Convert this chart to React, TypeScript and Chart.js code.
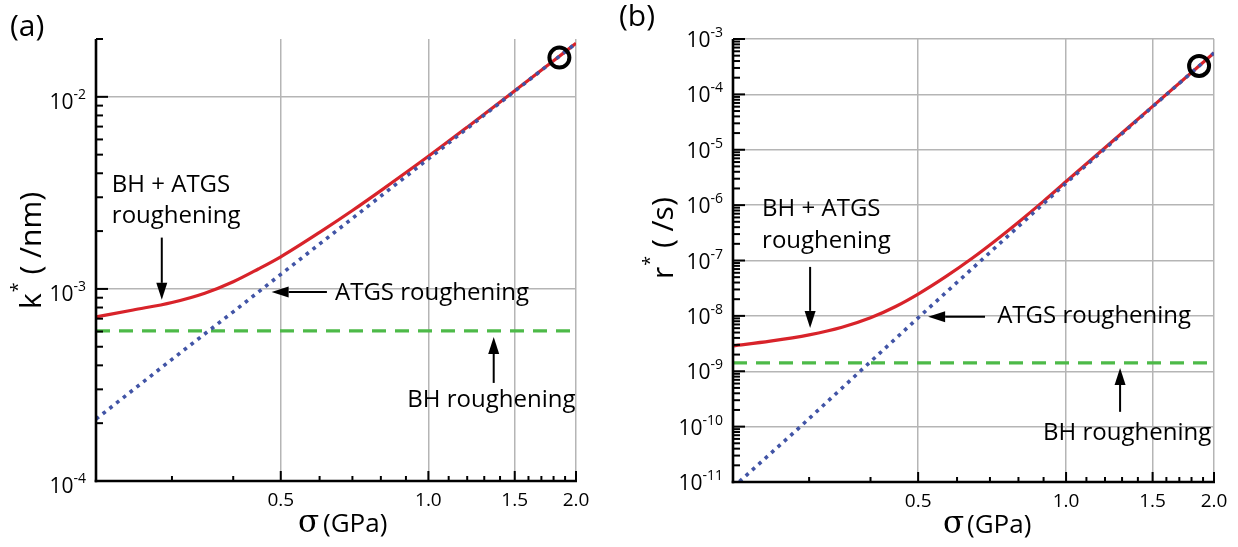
import React, { useEffect, useRef } from "react";
import { Chart, registerables } from "chart.js";

Chart.register(...registerables);

// ---------------- data ----------------
// shared sigma axis (GPa), logarithmic
const xMin = 0.21;
const xMax = 2.0;
const xMajorTicks = [0.5, 1.0, 1.5, 2.0];
const xTickLabels = ["0.5", "1.0", "1.5", "2.0"];
const xMinorTicks = [0.3, 0.4, 0.6, 0.7, 0.8, 0.9, 1.1, 1.2, 1.3, 1.4, 1.6, 1.7, 1.8, 1.9];

// panel (a): k* (/nm)
const sigmaRedA = [0.21, 0.25, 0.3, 0.35, 0.4, 0.45, 0.5, 0.6, 0.7, 0.8, 1.0, 1.2, 1.5, 1.8, 2.0];
const kRedA = [7.15e-4, 7.77e-4, 8.5e-4, 9.5e-4, 1.09e-3, 1.27e-3, 1.47e-3, 1.97e-3, 2.56e-3, 3.25e-3, 4.9e-3, 6.95e-3, 1.075e-2, 1.54e-2, 1.9e-2];
const sigmaBlueA = [0.21, 0.3, 0.4, 0.5, 0.7, 1.0, 1.5, 2.0];
const kBlueA = [2.1e-4, 4.3e-4, 7.6e-4, 1.19e-3, 2.33e-3, 4.75e-3, 1.07e-2, 1.9e-2];
const sigmaGreenA = [0.21, 2.0];
const kGreenA = [6.04e-4, 6.04e-4];
const sigmaCircleA = [1.85];
const kCircleA = [0.016];
const yMinA = 1e-4;
const yMaxA = 0.02;
const yLabelExpA = [-4, -3, -2];
const yGridExpA = [-3, -2];

// panel (b): r* (/s)
const sigmaRedB = [0.21, 0.25, 0.3, 0.35, 0.4, 0.45, 0.5, 0.57, 0.644, 0.72, 0.8, 0.9, 1.0, 1.2, 1.5, 2.0];
const rRedB = [2.88e-9, 3.49e-9, 4.54e-9, 6.23e-9, 9.24e-9, 1.48e-8, 2.48e-8, 5.17e-8, 1.1e-7, 2.33e-7, 4.92e-7, 1.18e-6, 2.67e-6, 1.09e-5, 6.07e-5, 5.6e-4];
const sigmaBlueB = [0.21, 0.288, 0.381, 0.505, 0.7, 1.0, 1.5, 2.0];
const rBlueB = [8e-12, 1e-10, 1e-9, 1e-8, 1.4e-7, 2.5e-6, 6.0e-5, 5.6e-4];
const sigmaGreenB = [0.21, 2.0];
const rGreenB = [1.42e-9, 1.42e-9];
const sigmaCircleB = [1.865];
const rCircleB = [3.26e-4];
const yMinB = 1e-11;
const yMaxB = 1e-3;
const yLabelExpB = [-11, -10, -9, -8, -7, -6, -5, -4, -3];
const yGridExpB = [-10, -9, -8, -7, -6, -5, -4, -3];

// annotations (anchored in data coordinates)
const notesA = [
  { text: "BH + ATGS", x: 0.2262, y: 3.2e-3 },
  { text: "roughening", x: 0.2262, y: 2.21e-3 },
  { text: "ATGS roughening", x: 0.645, y: 8.77e-4 },
  { text: "BH roughening", x: 0.906, y: 2.43e-4 },
];
const arrowsA = [
  { x1: 0.286, y1: 1.85e-3, x2: 0.286, y2: 8.77e-4 },
  { x1: 0.621, y1: 9.65e-4, x2: 0.479, y2: 9.65e-4 },
  { x1: 1.359, y1: 3.24e-4, x2: 1.359, y2: 5.62e-4 },
];
const notesB = [
  { text: "BH + ATGS", x: 0.2407, y: 6.38e-7 },
  { text: "roughening", x: 0.2407, y: 1.69e-7 },
  { text: "ATGS roughening", x: 0.724, y: 7.48e-9 },
  { text: "BH roughening", x: 0.898, y: 5.78e-11 },
];
const arrowsB = [
  { x1: 0.3014, y1: 7.66e-8, x2: 0.3014, y2: 6.07e-9 },
  { x1: 0.684, y1: 9.6e-9, x2: 0.524, y2: 9.6e-9 },
  { x1: 1.288, y1: 1.85e-10, x2: 1.288, y2: 1.15e-9 },
];

// ---------------- styles ----------------
const FONT = '"Open Sans", "DejaVu Sans", Arial, sans-serif';
const SERIF = '"DejaVu Serif", "Liberation Serif", serif';
const RED = "#d8232a";
const BLUE = "#4154a6";
const GREEN = "#4dba48";
const GRID = "#b5b5b5";
const W = 619;
const H = 547;

type Panel = {
  offsetX: number;
  padding: { left: number; right: number; top: number; bottom: number };
  red: { x: number[]; y: number[] };
  blue: { x: number[]; y: number[] };
  green: { x: number[]; y: number[] };
  circle: { x: number[]; y: number[] };
  yMin: number;
  yMax: number;
  yLabelExp: number[];
  yGridExp: number[];
  yLabelBaseline: number;
  notes: { text: string; x: number; y: number }[];
  arrows: { x1: number; y1: number; x2: number; y2: number }[];
  panelLabel: string;
  panelLabelPos: [number, number];
  yTitleMain: string;
  yTitleRest: string;
  yTitlePos: [number, number];
  sigmaX: number;
  gpaX: number;
  xTitleBaseline: number;
};

const panelA: Panel = {
  offsetX: 0,
  padding: { left: 96, right: W - 576, top: 39, bottom: H - 481 },
  red: { x: sigmaRedA, y: kRedA },
  blue: { x: sigmaBlueA, y: kBlueA },
  green: { x: sigmaGreenA, y: kGreenA },
  circle: { x: sigmaCircleA, y: kCircleA },
  yMin: yMinA,
  yMax: yMaxA,
  yLabelExp: yLabelExpA,
  yGridExp: yGridExpA,
  yLabelBaseline: 12,
  notes: notesA,
  arrows: arrowsA,
  panelLabel: "(a)",
  panelLabelPos: [10, 36],
  yTitleMain: "k",
  yTitleRest: " ( /nm)",
  yTitlePos: [41, 309],
  sigmaX: 298,
  gpaX: 323,
  xTitleBaseline: 532,
};

const panelB: Panel = {
  offsetX: 619,
  padding: { left: 733 - 619, right: 1238 - 1214, top: 39, bottom: H - 482 },
  red: { x: sigmaRedB, y: rRedB },
  blue: { x: sigmaBlueB, y: rBlueB },
  green: { x: sigmaGreenB, y: rGreenB },
  circle: { x: sigmaCircleB, y: rCircleB },
  yMin: yMinB,
  yMax: yMaxB,
  yLabelExp: yLabelExpB,
  yGridExp: yGridExpB,
  yLabelBaseline: 8,
  notes: notesB,
  arrows: arrowsB,
  panelLabel: "(b)",
  panelLabelPos: [619, 26],
  yTitleMain: "r",
  yTitleRest: " ( /s)",
  yTitlePos: [673, 279],
  sigmaX: 943,
  gpaX: 967,
  xTitleBaseline: 533,
};

const pts = (xs: number[], ys: number[]) => xs.map((x, i) => ({ x, y: ys[i] }));

function drawArrow(ctx: CanvasRenderingContext2D, x1: number, y1: number, x2: number, y2: number) {
  const ang = Math.atan2(y2 - y1, x2 - x1);
  const hl = 17;
  const hw = 5.5;
  const bx = x2 - hl * Math.cos(ang);
  const by = y2 - hl * Math.sin(ang);
  ctx.beginPath();
  ctx.moveTo(x1, y1);
  ctx.lineTo(bx, by);
  ctx.lineWidth = 2;
  ctx.stroke();
  ctx.beginPath();
  ctx.moveTo(x2, y2);
  ctx.lineTo(bx + hw * Math.sin(ang), by - hw * Math.cos(ang));
  ctx.lineTo(bx - hw * Math.sin(ang), by + hw * Math.cos(ang));
  ctx.closePath();
  ctx.fill();
}

function makeOverlay(p: Panel) {
  return {
    id: "overlay",
    afterDraw(chart: any) {
      const ctx: CanvasRenderingContext2D = chart.ctx;
      const xs = chart.scales.x;
      const ys = chart.scales.y;
      const a = chart.chartArea;
      const ox = p.offsetX;
      ctx.save();
      ctx.strokeStyle = "#000";
      ctx.fillStyle = "#000";
      ctx.lineCap = "butt";

      // tick marks (inward)
      ctx.lineWidth = 2;
      const line = (x1: number, y1: number, x2: number, y2: number) => {
        ctx.beginPath();
        ctx.moveTo(x1, y1);
        ctx.lineTo(x2, y2);
        ctx.stroke();
      };
      xMajorTicks.forEach((v) => {
        const px = xs.getPixelForValue(v);
        line(px, a.bottom, px, a.bottom - 10);
      });
      xMinorTicks.forEach((v) => {
        const px = xs.getPixelForValue(v);
        line(px, a.bottom, px, a.bottom - 5);
      });
      const e0 = p.yLabelExp[0];
      const e1 = p.yLabelExp[p.yLabelExp.length - 1];
      for (let e = e0; e <= e1; e++) {
        const base = Math.pow(10, e);
        const py = ys.getPixelForValue(base);
        line(a.left, py, a.left + 12, py);
        for (let m = 2; m <= 9; m++) {
          const v = m * base;
          if (v > p.yMax * 1.001) break;
          const pm = ys.getPixelForValue(v);
          line(a.left, pm, a.left + 7, pm);
        }
      }

      // axis lines
      ctx.lineWidth = 2.6;
      line(a.left, a.top, a.left, a.bottom + 1.3);
      line(a.left - 1.3, a.bottom, a.right + 1, a.bottom);

      // y tick labels 10^e
      ctx.textBaseline = "alphabetic";
      ctx.textAlign = "left";
      p.yLabelExp.forEach((e) => {
        const py = ys.getPixelForValue(Math.pow(10, e));
        const sup = String(e);
        ctx.font = `14px ${FONT}`;
        const supW = ctx.measureText(sup).width;
        ctx.font = `21px ${FONT}`;
        const tenW = ctx.measureText("10").width;
        const xEnd = a.left - 10;
        ctx.fillText("10", xEnd - supW - tenW, py + p.yLabelBaseline);
        ctx.font = `14px ${FONT}`;
        ctx.fillText(sup, xEnd - supW, py + p.yLabelBaseline - 10);
      });

      // x tick labels
      ctx.font = `19px ${FONT}`;
      ctx.textAlign = "center";
      xMajorTicks.forEach((v, i) => {
        const px = xs.getPixelForValue(v);
        ctx.fillText(xTickLabels[i], px, a.bottom + 25);
      });

      // x title
      ctx.textAlign = "left";
      ctx.font = `31px ${SERIF}`;
      ctx.fillText("σ", p.sigmaX - ox, p.xTitleBaseline);
      ctx.font = `26px ${FONT}`;
      ctx.fillText("(GPa)", p.gpaX - ox, p.xTitleBaseline);

      // y title (rotated)
      ctx.save();
      ctx.translate(p.yTitlePos[0] - ox, p.yTitlePos[1]);
      ctx.rotate(-Math.PI / 2);
      ctx.font = `30px ${FONT}`;
      ctx.fillText(p.yTitleMain, 0, 0);
      let w = ctx.measureText(p.yTitleMain).width;
      ctx.font = `18px ${FONT}`;
      ctx.fillText("*", w + 1, -17);
      w += ctx.measureText("*").width + 1;
      ctx.font = `30px ${FONT}`;
      ctx.fillText(p.yTitleRest, w, 0);
      ctx.restore();

      // panel label
      ctx.font = `30px ${FONT}`;
      ctx.fillText(p.panelLabel, p.panelLabelPos[0] - ox, p.panelLabelPos[1]);

      // annotations
      ctx.font = `24px ${FONT}`;
      p.notes.forEach((n) => {
        ctx.fillText(n.text, xs.getPixelForValue(n.x), ys.getPixelForValue(n.y));
      });
      p.arrows.forEach((r) => {
        drawArrow(
          ctx,
          xs.getPixelForValue(r.x1),
          ys.getPixelForValue(r.y1),
          xs.getPixelForValue(r.x2),
          ys.getPixelForValue(r.y2)
        );
      });
      ctx.restore();
    },
  };
}

function buildConfig(p: Panel): any {
  return {
    type: "line",
    data: {
      datasets: [
        {
          type: "scatter",
          label: "measured",
          data: pts(p.circle.x, p.circle.y),
          pointRadius: 10,
          pointBorderWidth: 4,
          pointBorderColor: "#000",
          pointBackgroundColor: "rgba(0,0,0,0)",
          showLine: false,
        },
        {
          label: "ATGS roughening",
          data: pts(p.blue.x, p.blue.y),
          borderColor: BLUE,
          borderWidth: 3.6,
          borderDash: [3.6, 5],
          pointRadius: 0,
          tension: 0,
          fill: false,
        },
        {
          label: "BH + ATGS roughening",
          data: pts(p.red.x, p.red.y),
          borderColor: RED,
          borderWidth: 3.2,
          pointRadius: 0,
          cubicInterpolationMode: "monotone",
          fill: false,
        },
        {
          label: "BH roughening",
          data: pts(p.green.x, p.green.y),
          borderColor: GREEN,
          borderWidth: 3.2,
          borderDash: [14, 9],
          pointRadius: 0,
          tension: 0,
          fill: false,
        },
      ],
    },
    options: {
      animation: false,
      responsive: false,
      maintainAspectRatio: false,
      devicePixelRatio: 1,
      layout: { padding: p.padding },
      plugins: { legend: { display: false }, tooltip: { enabled: false } },
      scales: {
        x: {
          type: "logarithmic",
          min: xMin,
          max: xMax,
          afterBuildTicks: (s: any) => {
            s.ticks = xMajorTicks.map((v) => ({ value: v }));
          },
          ticks: { display: false },
          grid: { color: GRID, lineWidth: 1.5, drawTicks: false },
          border: { display: false },
        },
        y: {
          type: "logarithmic",
          min: p.yMin,
          max: p.yMax,
          afterBuildTicks: (s: any) => {
            s.ticks = p.yGridExp.map((e) => ({ value: Math.pow(10, e) }));
          },
          ticks: { display: false },
          grid: { color: GRID, lineWidth: 1.5, drawTicks: false },
          border: { display: false },
        },
      },
    },
    plugins: [makeOverlay(p)],
  };
}

function PanelCanvas({ p }: { p: Panel }) {
  const ref = useRef<HTMLCanvasElement>(null);
  useEffect(() => {
    const chart = new Chart(ref.current as HTMLCanvasElement, buildConfig(p));
    return () => chart.destroy();
  }, [p]);
  return (
    <canvas
      ref={ref}
      width={W}
      height={H}
      style={{ position: "absolute", left: p.offsetX, top: 0, width: W, height: H }}
    />
  );
}

export default function App() {
  return (
    <div style={{ position: "fixed", left: 0, top: 0, width: 1238, height: 547, background: "#fff" }}>
      <PanelCanvas p={panelA} />
      <PanelCanvas p={panelB} />
    </div>
  );
}
